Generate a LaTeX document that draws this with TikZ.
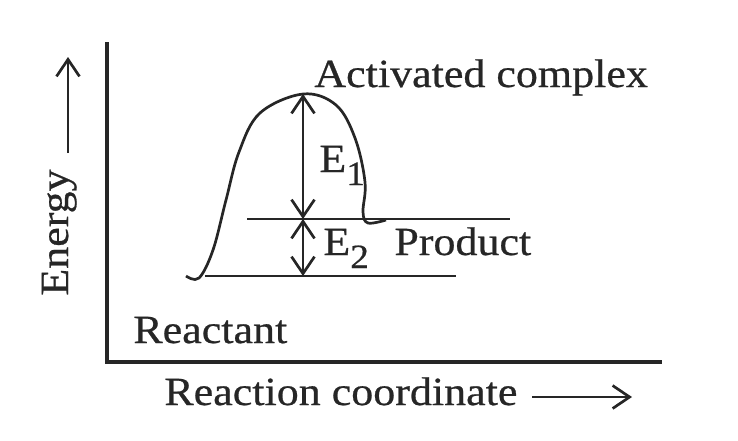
\documentclass[tikz,border=0pt]{standalone}
\usepackage{fontspec}
\setmainfont{Liberation Serif}[FakeStretch=1.1,FakeBold=0.6]
\usetikzlibrary{arrows.meta}
\newcommand{\lowidx}[1]{\raisebox{-13pt}{\fontsize{34}{34}\selectfont #1}}

\begin{document}
\begin{tikzpicture}[x=1pt,y=-1pt,line width=2.7pt,black!85,
		>={Straight Barb[length=17pt,width=23pt]},
		every node/.style={font=\fontsize{40}{48}\selectfont,inner sep=0pt}]
		\useasboundingbox (0,0) rectangle (738,440);
		\path 
		(107,362) coordinate (O)
		(107,42) coordinate (Y)
		(662,362) coordinate (X)
		(303,94) coordinate (P)
		(303,219) coordinate (Q)
		(303,276) coordinate (R)
		(247,219) coordinate (Q1)
		(510,219) coordinate (Q2)
		(205,276) coordinate (R1)
		(456,276) coordinate (R2)
		(68,153) coordinate (E0)
		(68,57) coordinate (E1)
		(532,397) coordinate (C0)
		(632,397) coordinate (C1)
		;
		\draw[line width=3.2pt] (Y) -- (O) -- (X);
		\draw (R1) -- (R2);
		\draw (Q1) -- (Q2);
		\draw plot[smooth,tension=0.6] coordinates {(186,276) (199,278) (213,250) (226,200) (239,152) (260,113) (P) (336,105) (355,138) (365,182) (363,212) (368,223) (386,220)};
		\path
		(313,87) node[anchor=base west] (act) {Activated complex}
		(132,343) node[anchor=base west] (rea) {Reactant}
		(163,405) node[anchor=base west] (coord) {Reaction coordinate}
		(393,255) node[anchor=base west] (prod) {Product}
		(318,172) node[anchor=base west] (e1) {E\lowidx{1}}
		(322,255) node[anchor=base west] (e2) {E\lowidx{2}}
		(68,297) node[anchor=base west,rotate=90] (en) {Energy}
		;
		\draw[<->] (P) -- (Q);
		\draw[<->] (Q) -- (R);
		\draw[->] (E0) -- (E1);
		\draw[->] (C0) -- (C1);
	\end{tikzpicture}
\end{document}
